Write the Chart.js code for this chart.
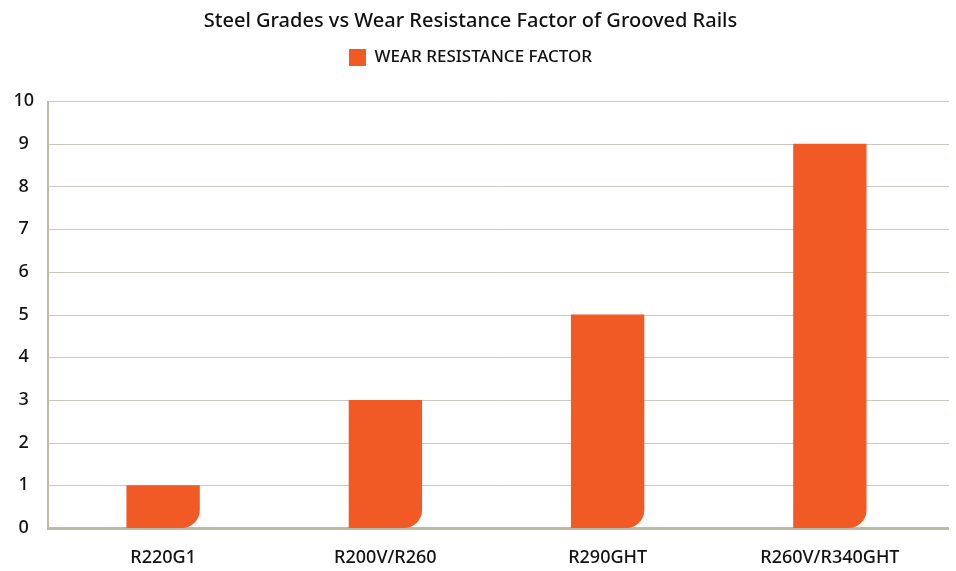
<!DOCTYPE html>
<html>
<head>
<meta charset="utf-8">
<script src="https://cdn.jsdelivr.net/npm/chart.js@4"></script>
<style>
  html, body { margin: 0; padding: 0; background: #fff; }
  #wrap { width: 956px; height: 571px; }
</style>
</head>
<body>
<div id="wrap"><canvas id="chart" width="956" height="571"></canvas></div>
<script>
const grades = ['R220G1', 'R200V/R260', 'R290GHT', 'R260V/R340GHT'];
const wearFactor = [1, 3, 5, 9];
const yTicks = [0, 1, 2, 3, 4, 5, 6, 7, 8, 9, 10];

// grid lines drawn a little wider than the category area, like the original
const gridPlugin = {
    id: 'wideGrid',
    beforeDatasetsDraw(chart) {
        const ctx = chart.ctx;
        const y = chart.scales.y;
        const left = 48, right = 949;
        ctx.save();
        ctx.strokeStyle = '#cbc9bb';
        ctx.lineWidth = 1;
        yTicks.forEach(v => {
            if (v === 0) return;
            const py = Math.round(y.getPixelForValue(v)) + 0.5;
            ctx.beginPath();
            ctx.moveTo(left, py);
            ctx.lineTo(right, py);
            ctx.stroke();
        });
        ctx.strokeStyle = '#bdbaa8';
        ctx.lineWidth = 2;
        ctx.beginPath();
        ctx.moveTo(left, y.getPixelForValue(10));
        ctx.lineTo(left, y.getPixelForValue(0) + 1);
        ctx.stroke();
        ctx.lineWidth = 3;
        ctx.beginPath();
        ctx.moveTo(left - 1, y.getPixelForValue(0) + 0.5);
        ctx.lineTo(right, y.getPixelForValue(0) + 0.5);
        ctx.stroke();
        ctx.restore();
    }
};

// extra room under the legend
const legendGap = {
    id: 'legendGap',
    beforeInit(chart) {
        const fit = chart.legend.fit;
        chart.legend.fit = function () {
            fit.bind(chart.legend)();
            this.height += 25;
        };
    }
};

const FONT = "'Noto Sans', 'Open Sans', sans-serif";

new Chart(document.getElementById('chart').getContext('2d'), {
    type: 'bar',
    data: {
        labels: grades,
        datasets: [{
            label: 'WEAR RESISTANCE FACTOR',
            data: wearFactor,
            backgroundColor: '#f15a24',
            borderWidth: 0,
            borderSkipped: false,
            borderRadius: { topLeft: 0, topRight: 0, bottomLeft: 0, bottomRight: 18 },
            categoryPercentage: 1,
            barPercentage: 0.33
        }]
    },
    options: {
        responsive: false,
        animation: false,
        layout: { padding: { left: 0, right: 15, top: 9, bottom: 0 } },
        plugins: {
            title: {
                display: true,
                text: 'Steel Grades vs Wear Resistance Factor of Grooved Rails',
                color: '#111',
                font: { family: FONT, size: 20, weight: '500' },
                padding: { top: 0, bottom: 8 }
            },
            legend: {
                position: 'top',
                labels: {
                    color: '#111',
                    font: { family: FONT, size: 17, weight: '500' },
                    boxWidth: 17,
                    boxHeight: 17,
                    padding: 8
                }
            },
            tooltip: { enabled: false }
        },
        scales: {
            x: {
                grid: { display: false, drawTicks: false },
                border: { display: false },
                ticks: { color: '#111', font: { family: FONT, size: 18, weight: '500' }, padding: 19 },
                afterFit(scale) { scale.height = 43; }
            },
            y: {
                min: 0,
                max: 10,
                grid: { display: false, drawTicks: false },
                border: { display: false },
                ticks: {
                    stepSize: 1,
                    color: '#111',
                    font: { family: FONT, size: 18, weight: '500' },
                    crossAlign: 'center',
                    padding: 18
                },
                afterFit(scale) { scale.width = 52; }
            }
        }
    },
    plugins: [gridPlugin, legendGap]
});
</script>
</body>
</html>
